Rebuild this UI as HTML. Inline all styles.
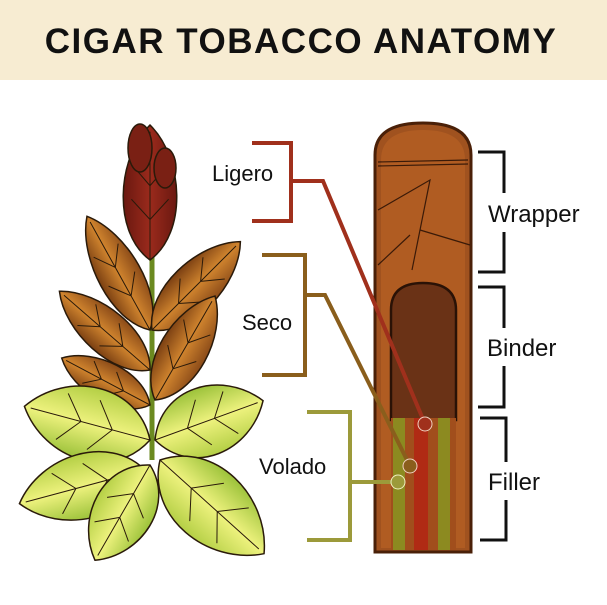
<!DOCTYPE html>
<html><head><style>
body{margin:0;background:#fff;}
svg{display:block;}
text{font-family:"Liberation Sans",sans-serif;}
</style></head><body>
<svg width="607" height="605" viewBox="0 0 607 605" xmlns="http://www.w3.org/2000/svg">
<defs>
<linearGradient id="brn" x1="0" x2="1"><stop offset="0" stop-color="#7a3f12"/><stop offset="0.5" stop-color="#d0842e"/><stop offset="1" stop-color="#8a4a18"/></linearGradient>
<linearGradient id="grn" x1="0" x2="1"><stop offset="0" stop-color="#9cc23a"/><stop offset="0.5" stop-color="#eef27e"/><stop offset="1" stop-color="#b4cf45"/></linearGradient>
<linearGradient id="red" x1="0" x2="1"><stop offset="0" stop-color="#6a1810"/><stop offset="0.5" stop-color="#9a2a1c"/><stop offset="1" stop-color="#6a1810"/></linearGradient>
<g id="lf"><path d="M0 0 C 0.6 -0.2 0.55 -0.75 0 -1 C -0.55 -0.75 -0.6 -0.2 0 0Z" vector-effect="non-scaling-stroke"/><path d="M0 0 L0 -0.95 M0 -0.3 L0.3 -0.45 M0 -0.3 L-0.3 -0.45 M0 -0.55 L0.28 -0.7 M0 -0.55 L-0.28 -0.7" fill="none" stroke-width="1" vector-effect="non-scaling-stroke"/></g>
</defs>
<rect x="0" y="0" width="607" height="80" fill="#f7ecd2"/>
<text x="301" y="53" font-size="35" font-weight="bold" text-anchor="middle" fill="#111" letter-spacing="1.5">CIGAR TOBACCO ANATOMY</text>

<!-- plant -->
<g stroke="#2a1a0a" stroke-width="1.5">
<line x1="152" y1="200" x2="152" y2="460" stroke="#6b8a20" stroke-width="5"/>
<use href="#lf" transform="translate(150,330) rotate(-29) scale(50,130)" fill="url(#brn)"/>
<use href="#lf" transform="translate(150,370) rotate(-49) scale(50,120)" fill="url(#brn)"/>
<use href="#lf" transform="translate(150,405) rotate(-62) scale(45,100)" fill="url(#brn)"/>
<use href="#lf" transform="translate(152,330) rotate(45) scale(55,125)" fill="url(#brn)"/>
<use href="#lf" transform="translate(155,400) rotate(30) scale(55,120)" fill="url(#brn)"/>
<use href="#lf" transform="translate(150,260) rotate(0) scale(62,135)" fill="url(#red)"/>
<ellipse cx="140" cy="148" rx="12" ry="24" fill="#7a2014"/>
<ellipse cx="165" cy="168" rx="11" ry="20" fill="#7a2014"/>
<use href="#lf" transform="translate(150,440) rotate(-75) scale(85,130)" fill="url(#grn)"/>
<use href="#lf" transform="translate(155,440) rotate(70) scale(80,115)" fill="url(#grn)"/>
<use href="#lf" transform="translate(145,470) rotate(-105) scale(75,130)" fill="url(#grn)"/>
<use href="#lf" transform="translate(150,465) rotate(-150) scale(70,110)" fill="url(#grn)"/>
<use href="#lf" transform="translate(160,460) rotate(132) scale(85,140)" fill="url(#grn)"/>
</g>

<!-- cigar -->
<path d="M375 155 Q375 123 423 123 Q471 123 471 155 L471 552 L375 552 Z" fill="#a0521f" stroke="#4a2008" stroke-width="3"/>
<path d="M381 160 Q381 130 423 130 Q465 130 465 160 L465 548 L381 548 Z" fill="#b05c22"/>
<g stroke="#3a1a08" stroke-width="1.2" fill="none">
<line x1="378" y1="162" x2="468" y2="160"/><line x1="378" y1="166" x2="468" y2="164"/>
<path d="M378 210 L430 180 L412 270"/><path d="M420 230 L470 245"/><path d="M378 265 L410 235"/>
</g>
<path d="M391 310 Q391 283 423 283 Q456 283 456 310 L456 420 L391 420 Z" fill="#6a3216" stroke="#2a1206" stroke-width="2.5"/>
<rect x="391" y="418" width="65" height="132" fill="#a14e1c"/>
<rect x="393" y="418" width="12" height="132" fill="#8c8a20"/>
<rect x="414" y="418" width="14" height="132" fill="#b02a14"/>
<rect x="438" y="418" width="12" height="132" fill="#8c8a20"/>

<!-- connectors -->
<g fill="none" stroke-width="4">
<polyline points="252,143 291,143 291,221 252,221" stroke="#a0301c"/>
<polyline points="291,181 323,181 425,424" stroke="#a0301c"/>
<polyline points="262,255 305,255 305,375 262,375" stroke="#8a5e1c"/>
<polyline points="305,295 325,295 410,466" stroke="#8a5e1c"/>
<polyline points="307,412 350,412 350,540 307,540" stroke="#9c9a3a"/>
<polyline points="350,482 398,482" stroke="#9c9a3a"/>
</g>
<circle cx="425" cy="424" r="7" fill="#a0301c" stroke="#f0d0c0" stroke-width="1"/>
<circle cx="410" cy="466" r="7" fill="#8a5e1c" stroke="#f0d0c0" stroke-width="1"/>
<circle cx="398" cy="482" r="7" fill="#9c9a3a" stroke="#f0f0c0" stroke-width="1"/>
<rect x="207" y="157" width="82" height="32" fill="#fff"/>
<text x="212" y="181" font-size="22" fill="#111">Ligero</text>
<text x="242" y="330" font-size="22" fill="#111">Seco</text>
<text x="259" y="474" font-size="22" fill="#111">Volado</text>

<!-- right brackets -->
<g fill="none" stroke="#111" stroke-width="3">
<polyline points="478,152 504,152 504,193"/><polyline points="504,232 504,272 478,272"/>
<polyline points="478,287 504,287 504,328"/><polyline points="504,366 504,407 478,407"/>
<polyline points="480,418 506,418 506,462"/><polyline points="506,500 506,540 480,540"/>
</g>
<text x="488" y="222" font-size="24" fill="#111">Wrapper</text>
<text x="487" y="356" font-size="24" fill="#111">Binder</text>
<text x="488" y="490" font-size="24" fill="#111">Filler</text>
</svg>
</body></html>
